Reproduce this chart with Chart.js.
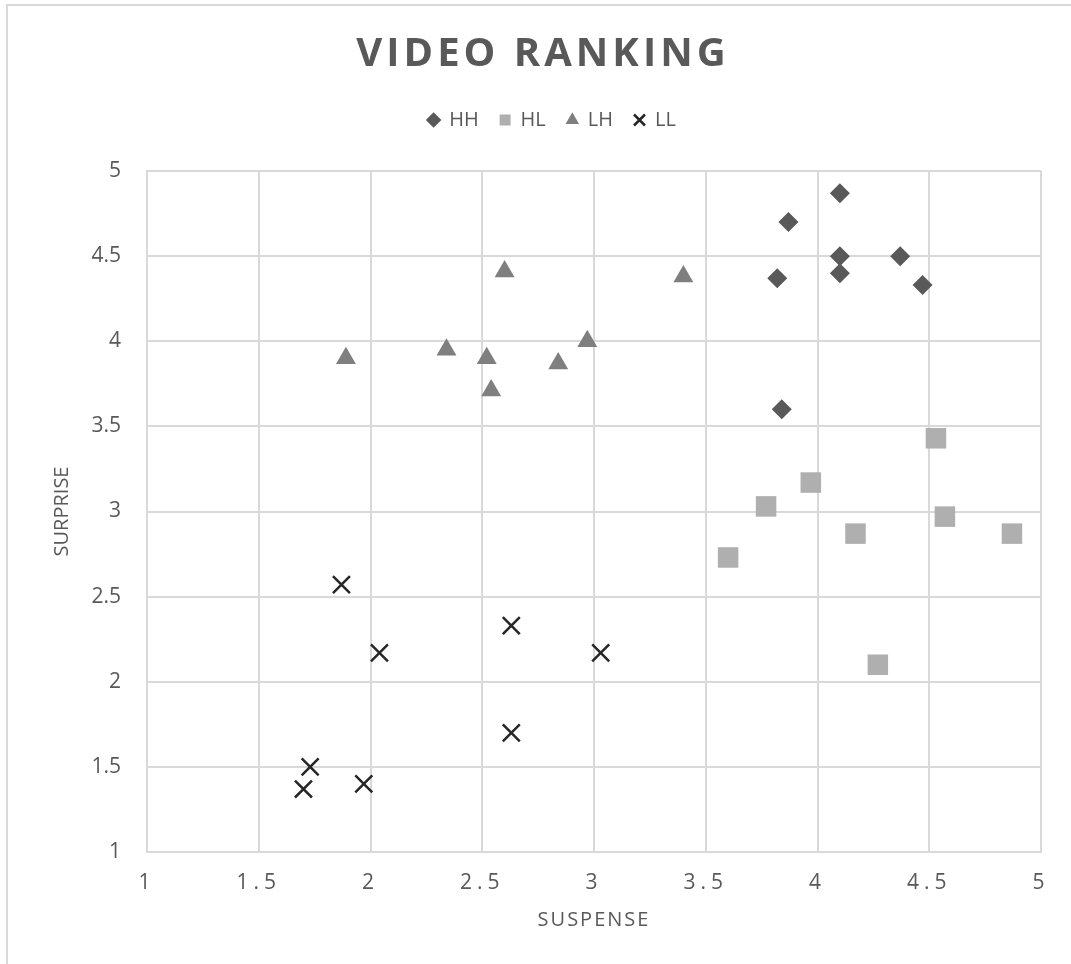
<!DOCTYPE html>
<html>
<head>
<meta charset="utf-8">
<title>Video Ranking</title>
<script src="https://cdn.jsdelivr.net/npm/chart.js@4/dist/chart.umd.min.js"></script>
<style>
  html, body { margin: 0; padding: 0; background: #ffffff; }
  #wrap { width: 1071px; height: 964px; position: relative; }
  canvas { display: block; }
</style>
</head>
<body>
<div id="wrap"><canvas id="chart" width="1071" height="964"></canvas></div>
<script>
// Video ranking: suspense (x) against surprise (y), one series per group
const seriesNames = ['HH', 'HL', 'LH', 'LL'];

const hhSuspense = [4.10, 3.87, 4.10, 4.37, 3.82, 4.10, 4.47, 3.84];
const hhSurprise = [4.87, 4.70, 4.50, 4.50, 4.37, 4.40, 4.33, 3.60];

const hlSuspense = [3.60, 3.77, 3.97, 4.17, 4.27, 4.53, 4.57, 4.87];
const hlSurprise = [2.73, 3.03, 3.17, 2.87, 2.10, 3.43, 2.97, 2.87];

const lhSuspense = [1.89, 2.34, 2.52, 2.54, 2.60, 2.84, 2.97, 3.40];
const lhSurprise = [3.90, 3.95, 3.90, 3.71, 4.41, 3.87, 4.00, 4.38];

const llSuspense = [1.87, 2.04, 2.63, 3.03, 2.63, 1.73, 1.70, 1.97];
const llSurprise = [2.57, 2.17, 2.33, 2.17, 1.70, 1.50, 1.37, 1.40];

const xTickValues = [1, 1.5, 2, 2.5, 3, 3.5, 4, 4.5, 5];
const xTickLabels = ['1', '1.5', '2', '2.5', '3', '3.5', '4', '4.5', '5'];
const yTickValues = [1, 1.5, 2, 2.5, 3, 3.5, 4, 4.5, 5];
const yTickLabels = ['1', '1.5', '2', '2.5', '3', '3.5', '4', '4.5', '5'];

const TEXT = '#595959';
const GRID = '#d9d9d9';
const FONT = "'Open Sans', 'Noto Sans', sans-serif";

function toPoints(xs, ys) {
  return xs.map((x, i) => ({ x: x, y: ys[i] }));
}

// Run a drawing method with extra letter spacing and/or a horizontal nudge
function wrapDraw(obj, method, spacing, dx) {
  if (!obj || obj['__wrapped_' + method]) return;
  const original = obj[method];
  obj[method] = function () {
    const ctx = this.ctx;
    ctx.save();
    if (spacing) ctx.letterSpacing = spacing;
    if (dx) ctx.translate(dx, 0);
    original.apply(this, arguments);
    ctx.restore();
  };
  obj['__wrapped_' + method] = true;
}

const frameAndText = {
  id: 'frameAndText',
  beforeDraw(chart) {
    const ctx = chart.ctx;
    ctx.save();
    ctx.strokeStyle = GRID;
    ctx.lineWidth = 2;
    ctx.beginPath();
    ctx.moveTo(7, 964);
    ctx.lineTo(7, 5);
    ctx.lineTo(1071, 5);
    ctx.stroke();
    ctx.restore();
    wrapDraw(chart.titleBlock, 'draw', '4px', 0);
    wrapDraw(chart.legend, 'draw', null, 9);
    wrapDraw(chart.scales.x, 'drawLabels', '5px', 0);
    wrapDraw(chart.scales.x, 'drawTitle', '2px', 0);
  }
};

const datasets = [
  {
    label: seriesNames[0],
    data: toPoints(hhSuspense, hhSurprise),
    pointStyle: 'rectRot',
    pointRadius: 10,
    backgroundColor: '#595959',
    borderColor: '#595959',
    borderWidth: 0
  },
  {
    label: seriesNames[1],
    data: toPoints(hlSuspense, hlSurprise),
    pointStyle: 'rect',
    pointRadius: 14.5,
    backgroundColor: '#afafaf',
    borderColor: '#afafaf',
    borderWidth: 0
  },
  {
    label: seriesNames[2],
    data: toPoints(lhSuspense, lhSurprise),
    pointStyle: 'triangle',
    pointRadius: 11.5,
    backgroundColor: '#7f7f7f',
    borderColor: '#7f7f7f',
    borderWidth: 0
  },
  {
    label: seriesNames[3],
    data: toPoints(llSuspense, llSurprise),
    pointStyle: 'crossRot',
    pointRadius: 12,
    backgroundColor: '#262626',
    borderColor: '#262626',
    borderWidth: 2.5
  }
];

// Empty axes used only to reserve space above and to the right of the plot
const spacerAxis = (position, size) => ({
  type: 'linear',
  position: position,
  min: 1,
  max: 5,
  display: true,
  grid: { display: false },
  border: { display: false },
  ticks: { display: false },
  afterFit(scale) {
    if (position === 'top') scale.height = size; else scale.width = size;
  }
});

new Chart(document.getElementById('chart'), {
  type: 'scatter',
  data: { datasets: datasets },
  plugins: [frameAndText],
  options: {
    responsive: false,
    animation: false,
    events: [],
    layout: { padding: { left: 15, right: 0, top: 0, bottom: 0 } },
    plugins: {
      title: {
        display: true,
        text: 'VIDEO RANKING',
        color: TEXT,
        font: { family: FONT, size: 40, weight: 'bold', lineHeight: 1.2 },
        padding: { top: 31, bottom: 10 }
      },
      legend: {
        display: true,
        position: 'top',
        labels: {
          usePointStyle: true,
          boxWidth: 11,
          boxHeight: 11,
          padding: 21,
          color: TEXT,
          font: { family: FONT, size: 20 }
        }
      },
      tooltip: { enabled: false }
    },
    scales: {
      x: {
        type: 'linear',
        position: 'bottom',
        min: 1,
        max: 5,
        afterBuildTicks(scale) { scale.ticks = xTickValues.map(v => ({ value: v })); },
        afterFit(scale) { scale.height = 112; },
        grid: { color: GRID, lineWidth: 2, drawTicks: false },
        border: { color: GRID, width: 2 },
        ticks: {
          color: TEXT,
          padding: 18,
          font: { family: FONT, size: 21 },
          callback: (value, index) => xTickLabels[index]
        },
        title: {
          display: true,
          text: 'SUSPENSE',
          color: TEXT,
          font: { family: FONT, size: 20, lineHeight: 1.2 },
          padding: { top: 0, bottom: 32 }
        }
      },
      xTop: spacerAxis('top', 31),
      yRight: spacerAxis('right', 30),
      y: {
        type: 'linear',
        position: 'left',
        min: 1,
        max: 5,
        afterBuildTicks(scale) { scale.ticks = yTickValues.map(v => ({ value: v })); },
        afterFit(scale) { scale.width = 132; },
        grid: { color: GRID, lineWidth: 2, drawTicks: false },
        border: { color: GRID, width: 2 },
        ticks: {
          color: TEXT,
          padding: 26,
          font: { family: FONT, size: 21 },
          callback: (value, index) => yTickLabels[index]
        },
        title: {
          display: true,
          text: 'SURPRISE',
          color: TEXT,
          font: { family: FONT, size: 20, lineHeight: 1.2 },
          padding: { top: 35, bottom: 0 }
        }
      }
    }
  }
});
</script>
</body>
</html>
